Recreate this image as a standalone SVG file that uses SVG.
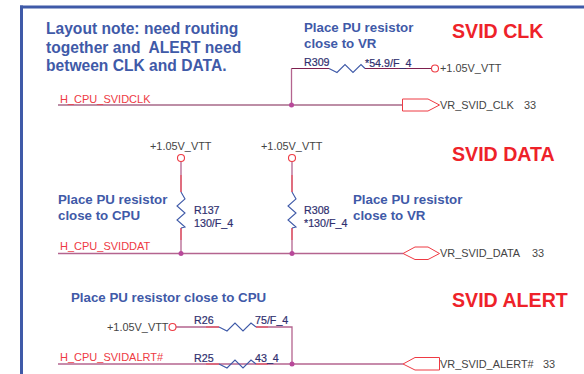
<svg xmlns="http://www.w3.org/2000/svg" width="584" height="374" viewBox="0 0 584 374">
<style>
text{font-family:"Liberation Sans",Arial,sans-serif;white-space:pre}
.note{font-size:13.3px;font-weight:bold;fill:#3f5aa8}
.lay{font-size:15.600px;font-weight:bold;fill:#3f5aa8}
.title{font-size:19.600px;font-weight:bold;fill:#ee2229}
.net{font-size:11px;fill:#ee3a43}
.pw{font-size:10.900px;fill:#444}
.ref{font-size:10.700px;fill:#2f2f6f;stroke:#2f2f6f;stroke-width:.2}
.w{fill:none;stroke:#b4648f;stroke-width:1.3}
.d{fill:none;stroke:#7d1f4e;stroke-width:1.2}
.r{fill:none;stroke:#ee4a52;stroke-width:1.1}
.z{fill:none;stroke:#3f5aa8;stroke-width:1.1}
.c{fill:#fff;stroke:#ee3a43;stroke-width:1.1}
.p{fill:#fff;stroke:#ee3a43;stroke-width:1}
.j{fill:#b8489a}
</style>
<rect id="frame-top" x="20" y="5.500" width="564" height="3" fill="#3f5aa8"/>
<rect id="frame-left" x="20" y="5.500" width="3" height="368.500" fill="#3f5aa8"/>
<g id="connectors">
<path class="d" d="M58 105H402"/>
<path class="w" d="M291.500 105V68.500"/>
<path class="d" d="M291.500 68.500H329M365 68.500H431"/>
<path class="w" d="M58 253.500H403"/>
<path class="w" d="M181 162V192M181 228V253M292 162V192M292 228V253"/>
<path class="r" d="M181 175V192M181 228V240M292 175V192M292 228V240"/>
<path class="w" d="M176 327H219M256 327H292V364"/>
<path class="w" d="M58 364H403"/>
<path class="r" d="M206 327H219M256 327H268M206 364H219M256 364H268"/>
</g>
<g id="note-layout"><text class="lay" x="46" y="34">Layout note: need routing</text><text class="lay" x="46" y="53">together and  ALERT need</text><text class="lay" x="46" y="71">between CLK and DATA.</text></g>
<g id="note-clk"><text class="note" x="304" y="32">Place PU resistor</text><text class="note" x="304" y="48">close to VR</text></g>
<g id="title-clk"><text class="title" x="452" y="38">SVID CLK</text></g>
<g id="title-data"><text class="title" x="452" y="161">SVID DATA</text></g>
<g id="title-alert"><text class="title" x="452" y="307">SVID ALERT</text></g>
<g id="net-clk"><text class="net" x="60" y="103">H_CPU_SVIDCLK</text><circle class="j" cx="291.500" cy="105" r="2.500"/></g>
<g id="R309"><text class="ref" x="304" y="66">R309</text><text class="ref" x="365" y="67">*54.9/F_4</text><path class="z" d="M329 68.500l8 4 8-8 8 8 8-8 4 4"/></g>
<g id="pwr-clk"><circle class="c" cx="435" cy="68.500" r="3.500"/><text class="pw" x="440" y="72">+1.05V_VTT</text></g>
<g id="port-clk"><path class="p" d="M402.500 99H428L439.500 105 428 111H402.500Z"/><text class="pw" x="440" y="109">VR_SVID_CLK</text><text class="pw" x="524" y="109">33</text></g>
<g id="pwr-137"><text class="pw" x="150" y="150">+1.05V_VTT</text><circle class="c" cx="181" cy="158" r="3.500"/></g>
<g id="pwr-308"><text class="pw" x="261" y="150">+1.05V_VTT</text><circle class="c" cx="292" cy="158" r="3.500"/></g>
<g id="R137"><path class="z" d="M181 192l4 7-8 7 8 7-8 7 8 7-4 1"/><text class="ref" x="194" y="214">R137</text><text class="ref" x="194" y="227">130/F_4</text></g>
<g id="R308"><path class="z" d="M292 192l4 7-8 7 8 7-8 7 8 7-4 1"/><text class="ref" x="304" y="214">R308</text><text class="ref" x="304" y="227">*130/F_4</text></g>
<g id="note-cpu"><text class="note" x="58" y="204">Place PU resistor</text><text class="note" x="58" y="220">close to CPU</text></g>
<g id="note-vr"><text class="note" x="353" y="204">Place PU resistor</text><text class="note" x="353" y="220">close to VR</text></g>
<g id="net-data"><text class="net" x="60" y="250">H_CPU_SVIDDAT</text><circle class="j" cx="181" cy="253.500" r="2.500"/><circle class="j" cx="292" cy="253.500" r="2.500"/></g>
<g id="port-data"><path class="p" d="M403 253.500L415 247H428L439.500 253.500 428 259.500H415Z"/><text class="pw" x="440" y="257">VR_SVID_DATA</text><text class="pw" x="532" y="257">33</text></g>
<g id="note-alert"><text class="note" x="71" y="302">Place PU resistor close to CPU</text></g>
<g id="pwr-26"><text class="pw" x="107" y="331">+1.05V_VTT</text><circle class="c" cx="172.500" cy="327" r="3.500"/></g>
<g id="R26"><text class="ref" x="194" y="324">R26</text><text class="ref" x="255" y="324">75/F_4</text><path class="z" d="M219 327l8 4 8-8 8 8 8-8 5 4"/></g>
<g id="net-alert"><text class="net" x="60" y="361">H_CPU_SVIDALRT#</text><circle class="j" cx="292" cy="364" r="2.500"/></g>
<g id="R25"><text class="ref" x="194" y="362">R25</text><text class="ref" x="255" y="362">43_4</text><path class="z" d="M219 364l8 4 8-8 8 8 8-8 5 4"/></g>
<g id="port-alert"><path class="p" d="M403 364L415 357.500H439.500V370H415Z"/><text class="pw" x="440" y="368">VR_SVID_ALERT#</text><text class="pw" x="543" y="368">33</text></g>
</svg>
